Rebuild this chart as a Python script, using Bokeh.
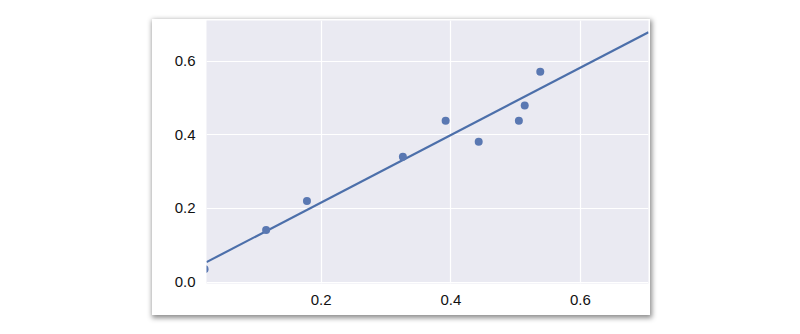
from bokeh.plotting import figure
from bokeh.models import Range1d, FixedTicker, PrintfTickFormatter
from bokeh.embed import file_html
from bokeh.resources import INLINE

# data
x_vals = [0.020, 0.115, 0.178, 0.326, 0.392, 0.443, 0.505, 0.514, 0.538]
y_vals = [0.035, 0.141, 0.220, 0.340, 0.438, 0.381, 0.438, 0.479, 0.571]
x_ticks = [0.2, 0.4, 0.6]
y_ticks = [0.0, 0.2, 0.4, 0.6]
x_lo, x_hi = 0.023, 0.705
y_lo, y_hi = -0.004, 0.71
# regression line
slope, intercept = 0.915, 0.033

p = figure(width=498, height=296, output_backend="svg", toolbar_location=None,
           x_range=Range1d(x_lo, x_hi), y_range=Range1d(y_lo, y_hi),
           min_border_left=54, min_border_right=2, min_border_top=1, min_border_bottom=32,
           background_fill_color="#EAEAF2", border_fill_color="white")
p.margin = (19, 0, 0, 152)
p.styles = {"box-shadow": "1px 2px 5px 1px rgba(0,0,0,0.45)"}
p.outline_line_color = None

for ax, ticks in ((p.xaxis, x_ticks), (p.yaxis, y_ticks)):
    ax.ticker = FixedTicker(ticks=ticks)
    ax.formatter = PrintfTickFormatter(format="%.1f")
    ax.axis_line_color = None
    ax.major_tick_line_color = None
    ax.minor_tick_line_color = None
    ax.major_tick_out = 0
    ax.major_label_standoff = 11
    ax.major_label_text_font = "Liberation Sans"
    ax.major_label_text_font_size = "15px"
    ax.major_label_text_color = "#111111"

p.xgrid.grid_line_color = "white"
p.ygrid.grid_line_color = "white"
p.xgrid.grid_line_width = 1.2
p.ygrid.grid_line_width = 1.2

xs = [x_lo, x_hi]
ys = [intercept + slope * v for v in xs]
p.line(xs, ys, line_color="#4C6FAA", line_width=2.2)
p.scatter(x_vals, y_vals, size=8, fill_color="#5A78B2", line_color=None)

open("out.html", "w").write(file_html(p, INLINE))
